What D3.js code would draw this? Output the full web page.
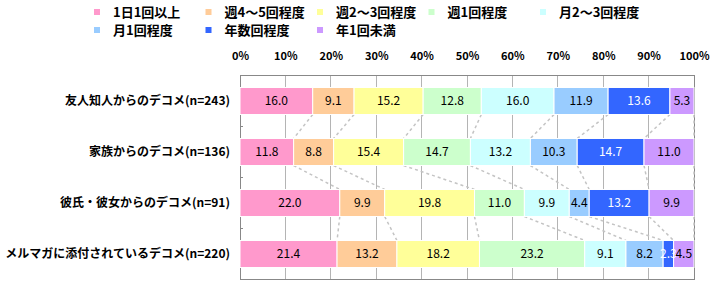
<!DOCTYPE html>
<html>
<head>
<meta charset="utf-8">
<script src="https://cdn.jsdelivr.net/npm/d3@7"></script>
<style>
  body { margin: 0; background: #fff; }
  svg { display: block; font-family: "Noto Sans CJK JP", sans-serif; }
</style>
</head>
<body>
<svg width="712" height="285"></svg>
<script>
// data
let categories = ["友人知人からのデコメ(n=243)", "家族からのデコメ(n=136)", "彼氏・彼女からのデコメ(n=91)", "メルマガに添付されているデコメ(n=220)"];
let seriesNames = ["1日1回以上", "週4～5回程度", "週2～3回程度", "週1回程度", "月2～3回程度", "月1回程度", "年数回程度", "年1回未満"];
let seriesColors = ["#ff99cc", "#ffcc99", "#ffff99", "#ccffcc", "#ccffff", "#99ccff", "#3366ff", "#cc99ff"];
let values = [
  [16.0, 9.1, 15.2, 12.8, 16.0, 11.9, 13.6, 5.3],
  [11.8, 8.8, 15.4, 14.7, 13.2, 10.3, 14.7, 11.0],
  [22.0, 9.9, 19.8, 11.0, 9.9, 4.4, 13.2, 9.9],
  [21.4, 13.2, 18.2, 23.2, 9.1, 8.2, 2.3, 4.5]
];
let tickValues = [0, 0.1, 0.2, 0.3, 0.4, 0.5, 0.6, 0.7, 0.8, 0.9, 1];

var drawChart = function() {
  let svg = d3.select("svg");
  let margin = { top: 75.5, left: 240, right: 694, bottom: 279.5 };

  let x = d3.scaleLinear().domain([0, 1]).range([margin.left, margin.right]);
  let y = d3.scaleBand()
    .domain(categories)
    .range([margin.top, margin.bottom])
    .paddingInner(0.47)
    .paddingOuter(0.235);

  // stacked rows, normalised to 100% like excel does
  let rows = values.map(function(vals, r) {
    let total = d3.sum(vals);
    let acc = 0;
    return vals.map(function(v, i) {
      let seg = { row: r, series: i, value: v, x0: acc / total };
      acc += v;
      seg.x1 = acc / total;
      return seg;
    });
  });

  // gridlines
  svg.append("g").selectAll("line")
    .data(tickValues.slice(1, -1))
    .enter().append("line")
    .attr("x1", d => x(d)).attr("x2", d => x(d))
    .attr("y1", margin.top).attr("y2", margin.bottom)
    .attr("stroke", "#b4b4b4").attr("stroke-width", 1)
    .attr("shape-rendering", "crispEdges");

  // frame
  svg.append("rect")
    .attr("x", margin.left).attr("y", margin.top)
    .attr("width", margin.right - margin.left)
    .attr("height", margin.bottom - margin.top)
    .attr("fill", "none").attr("stroke", "#888").attr("stroke-width", 1)
    .attr("shape-rendering", "crispEdges");

  // band boundary ticks on left axis
  let bounds = categories.slice(1).map(c => y(c) - y.step() * y.paddingInner() / 2);
  svg.append("g").selectAll("line")
    .data(bounds)
    .enter().append("line")
    .attr("x1", margin.left).attr("x2", margin.left + 3)
    .attr("y1", d => d).attr("y2", d => d)
    .attr("stroke", "#888").attr("shape-rendering", "crispEdges");

  // series lines between bars
  let linkData = [];
  for (let r = 0; r < rows.length - 1; r++) {
    for (let i = 0; i < seriesNames.length; i++) {
      linkData.push({ a: rows[r][i].x1, b: rows[r + 1][i].x1, r: r });
    }
  }
  svg.append("g").selectAll("line")
    .data(linkData)
    .enter().append("line")
    .attr("x1", d => x(d.a))
    .attr("y1", d => y(categories[d.r]) + y.bandwidth())
    .attr("x2", d => x(d.b))
    .attr("y2", d => y(categories[d.r + 1]))
    .attr("stroke", "#c4c4c4").attr("stroke-width", 1.5)
    .attr("stroke-dasharray", "3,3");

  // bars
  let rowG = svg.append("g").selectAll("g")
    .data(rows)
    .enter().append("g");

  rowG.selectAll("rect")
    .data(d => d)
    .enter().append("rect")
    .attr("x", d => x(d.x0))
    .attr("y", d => y(categories[d.row]))
    .attr("width", d => x(d.x1) - x(d.x0))
    .attr("height", y.bandwidth())
    .attr("fill", d => seriesColors[d.series])
    .attr("stroke", "#fff").attr("stroke-width", 1);

  rowG.selectAll("text")
    .data(d => d)
    .enter().append("text")
    .attr("x", d => (x(d.x0) + x(d.x1)) / 2)
    .attr("y", d => y(categories[d.row]) + y.bandwidth() / 2)
    .attr("dy", "0.36em")
    .attr("text-anchor", "middle")
    .style("font-size", "12px")
    .attr("fill", d => d.series == 6 ? "#fff" : "#000")
    .text(d => d.value.toFixed(1));

  // category labels
  svg.append("g").selectAll("text")
    .data(categories)
    .enter().append("text")
    .attr("x", 230)
    .attr("y", d => y(d) + y.bandwidth() / 2)
    .attr("dy", "0.36em")
    .attr("text-anchor", "end")
    .style("font-size", "12px").style("font-weight", "bold")
    .text(d => d);

  // percent axis on top
  let xAxis = d3.axisTop(x).tickValues(tickValues).tickFormat(d3.format(".0%")).tickSize(0);
  let axisG = svg.append("g")
    .attr("transform", "translate(0,60)")
    .call(xAxis);
  axisG.select(".domain").remove();
  axisG.selectAll("text")
    .attr("y", 0).attr("dy", 0)
    .style("font-size", "11px").style("font-weight", "bold")
    .style("font-family", "'Noto Sans CJK JP', sans-serif")
    .attr("fill", "#000");

  // legend
  let legend = svg.append("g").selectAll("g")
    .data(seriesNames)
    .enter().append("g")
    .attr("transform", (d, i) => "translate(" + (97 + (i % 5) * 111.5) + "," + (i < 5 ? 12 : 30) + ")");
  legend.append("rect")
    .attr("x", -3).attr("y", -3).attr("width", 6).attr("height", 6)
    .attr("fill", (d, i) => seriesColors[i]);
  legend.append("text")
    .attr("x", 16).attr("dy", "0.36em")
    .style("font-size", "13px").style("font-weight", "bold")
    .text(d => d);
}

drawChart();
</script>
</body>
</html>
